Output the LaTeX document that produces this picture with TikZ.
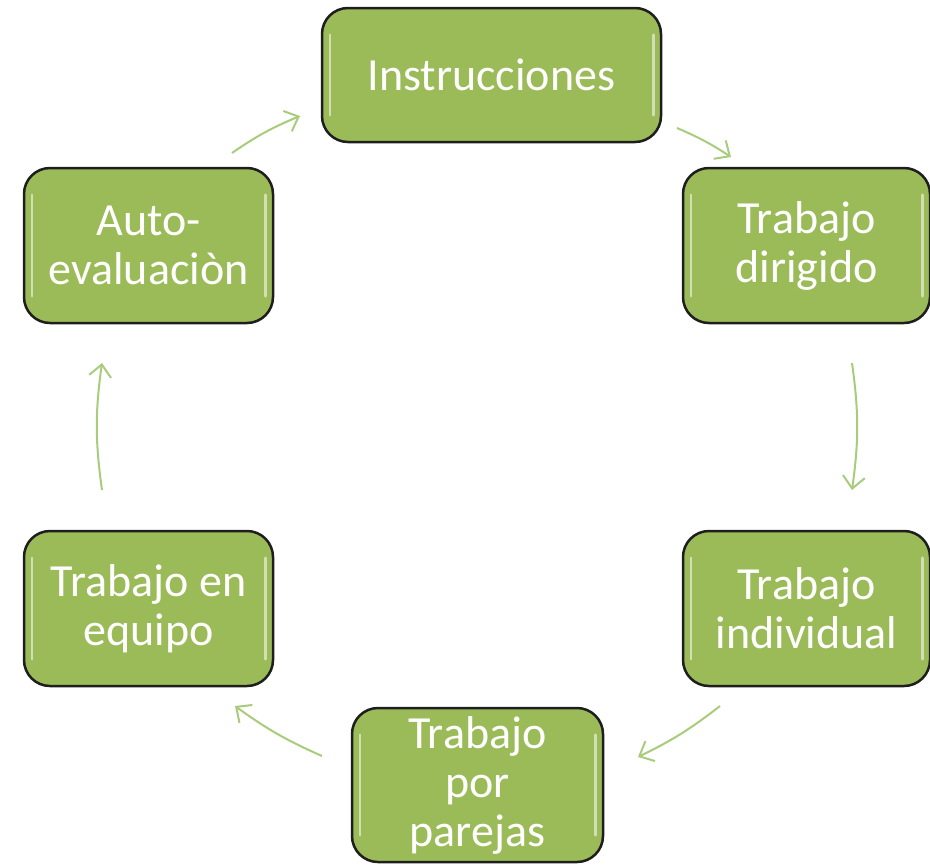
\documentclass[tikz,border=0pt]{standalone}
\usepackage{fontspec}
\setmainfont{Carlito}
\usetikzlibrary{arrows.meta,calc}
\definecolor{boxgreen}{HTML}{9BBB59}
\definecolor{arrowgreen}{HTML}{A9CC7C}
\definecolor{boxedge}{HTML}{1E1E1E}
\tikzset{
  stepbox/.style={draw=boxedge, line width=2.5pt, fill=boxgreen, rounded corners=26pt,
    text=white, align=center, inner sep=0pt,
    font=\fontsize{46}{49}\selectfont},
  flowarrow/.style={draw=arrowgreen, line width=2pt,
    -{Straight Barb[length=12pt,width=22pt,line width=2pt]}},
  gloss/.style={draw=white, line width=2.5pt, opacity=0.55, line cap=round}
}
\newcommand{\glossbox}[1]{%
  \draw[gloss] ($(#1.north west)+(9pt,-28pt)$) -- ($(#1.south west)+(9pt,28pt)$);
  \draw[gloss] ($(#1.north east)+(-9pt,-28pt)$) -- ($(#1.south east)+(-9pt,28pt)$);
}
\begin{document}
\begin{tikzpicture}[x=1pt,y=-1pt]
\useasboundingbox (0,0) rectangle (930,865);
\node[stepbox, minimum width=339pt, minimum height=134pt] (instr) at (491.5,75) {Instrucciones};
\node[stepbox, minimum width=247pt, minimum height=155pt] (dir) at (806.5,245.5) {Trabajo\\dirigido};
\node[stepbox, minimum width=247pt, minimum height=155pt] (ind) at (806.5,608.5) {Trabajo\\individual};
\node[stepbox, minimum width=251pt, minimum height=154pt] (par) at (477.5,785) {Trabajo\\por\\parejas};
\node[stepbox, minimum width=249pt, minimum height=155pt] (equ) at (148.5,608.5) {Trabajo en\\equipo};
\node[stepbox, minimum width=249pt, minimum height=155pt] (aut) at (148.5,245.5) {Auto-\\evaluaciòn};
\glossbox{instr}\glossbox{dir}\glossbox{ind}\glossbox{par}\glossbox{equ}\glossbox{aut}
\coordinate (a1s) at (232,153); \coordinate (a1e) at (300,116);
\coordinate (a2s) at (677,128); \coordinate (a2e) at (731,157);
\coordinate (a3s) at (852,363); \coordinate (a3e) at (852,490);
\coordinate (a4s) at (720,706); \coordinate (a4e) at (638,757);
\coordinate (a5s) at (322,756); \coordinate (a5e) at (235,706);
\coordinate (a6s) at (102,490); \coordinate (a6e) at (102,363);
\draw[flowarrow] (a1s) to[bend left=6] (a1e);
\draw[flowarrow] (a2s) to[bend left=5] (a2e);
\draw[flowarrow] (a3s) to[bend left=8] (a3e);
\draw[flowarrow] (a4s) to[bend left=6] (a4e);
\draw[flowarrow] (a5s) to[bend left=6] (a5e);
\draw[flowarrow] (a6s) to[bend left=8] (a6e);
\end{tikzpicture}
\end{document}
